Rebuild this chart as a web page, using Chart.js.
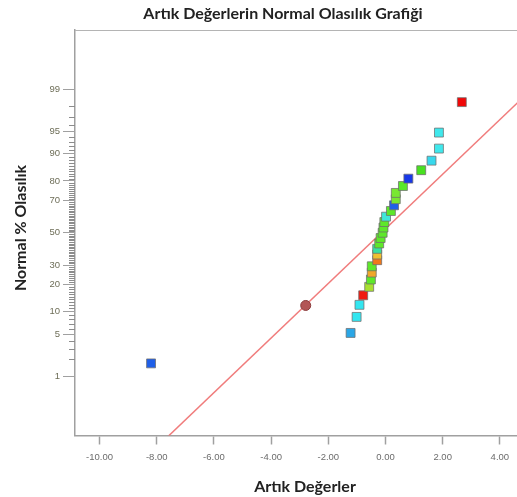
<!DOCTYPE html>
<html>
<head>
<meta charset="utf-8">
<script src="https://cdn.jsdelivr.net/npm/chart.js@4/dist/chart.umd.min.js"></script>
<style>
  html, body { margin: 0; padding: 0; background: #fff; }
  #wrap { width: 517px; height: 497px; }
</style>
</head>
<body>
<div id="wrap"><canvas id="probPlot"></canvas></div>
<script>
// residuals (x) and their normal % probability (y), lowest first
const residuals = [-8.20, -1.22, -1.01, -0.91, -0.78, -0.57, -0.51, -0.48, -0.48, -0.29,
                   -0.29, -0.29, -0.22, -0.17, -0.10, -0.07, -0.04, 0.02, 0.19, 0.30,
                   0.36, 0.36, 0.61, 0.80, 1.25, 1.61, 1.87, 1.87, 2.67];
const probPct = [1.7, 5.2, 8.6, 12.1, 15.5, 19.0, 22.4, 25.9, 29.3, 32.8,
                 36.2, 39.7, 43.1, 46.6, 50.0, 53.4, 56.9, 60.3, 63.8, 67.2,
                 70.7, 74.1, 77.6, 81.0, 84.5, 87.9, 91.4, 94.8, 98.3];
// the highlighted (round) point
const markX = [-2.79];
const markPct = [11.9];
// reference line end points
const lineX = [-8.0, 5.0];
const linePct = [0.025, 98.87];

const xTicks = [-10, -8, -6, -4, -2, 0, 2, 4];
const yTickPct = [1, 5, 10, 20, 30, 50, 70, 80, 90, 95, 99];
const yMinorPct = [2, 3, 4, 6, 7, 8, 9, 11, 12, 13, 14, 15, 16, 17, 18, 19, 21, 22, 23, 24, 25, 26, 27, 28, 29,
                   31, 32, 33, 34, 35, 36, 37, 38, 39, 40, 41, 42, 43, 44, 45, 46, 47, 48, 49,
                   51, 52, 53, 54, 55, 56, 57, 58, 59, 60, 61, 62, 63, 64, 65, 66, 67, 68, 69,
                   71, 72, 73, 74, 75, 76, 77, 78, 79, 81, 82, 83, 84, 85, 86, 87, 88, 89,
                   91, 92, 93, 94, 96, 97, 98];
const yRangePct = [0.05, 99.95];
const xRange = [-10.86, 4.60];

// colours of the squares (by response value in the original)
const pointColors = ['#1f5fe8', '#2aa6e6', '#33e6f0', '#33e6f0', '#f01a10', '#a8e030', '#5ee82a', '#f0a828', '#5ee82a', '#f0781a',
                     '#f0c030', '#38e0a0', '#5ee82a', '#5ee82a', '#5ee82a', '#5ee82a', '#5ee82a', '#40e8d8', '#5ee82a', '#2060e8',
                     '#78e830', '#78e830', '#58e82a', '#1838e8', '#48e020', '#38d8ec', '#40e8ec', '#40e8ec', '#f00808'];

// inverse normal cdf (Acklam) - used for the probability axis
function probit(p) {
  const a = [-3.969683028665376e+01, 2.209460984245205e+02, -2.759285104469687e+02, 1.383577518672690e+02, -3.066479806614716e+01, 2.506628277459239e+00];
  const b = [-5.447609879822406e+01, 1.615858368580409e+02, -1.556989798598866e+02, 6.680131188771972e+01, -1.328068155288572e+01];
  const c = [-7.784894002430293e-03, -3.223964580411365e-01, -2.400758277161838e+00, -2.549732539343734e+00, 4.374664141464968e+00, 2.938163982698783e+00];
  const d = [7.784695709041462e-03, 3.224671290700398e-01, 2.445134137142996e+00, 3.754408661907416e+00];
  const pl = 0.02425;
  if (p < pl) {
    const q = Math.sqrt(-2 * Math.log(p));
    return (((((c[0]*q+c[1])*q+c[2])*q+c[3])*q+c[4])*q+c[5]) / ((((d[0]*q+d[1])*q+d[2])*q+d[3])*q+1);
  }
  if (p > 1 - pl) {
    const q = Math.sqrt(-2 * Math.log(1 - p));
    return -(((((c[0]*q+c[1])*q+c[2])*q+c[3])*q+c[4])*q+c[5]) / ((((d[0]*q+d[1])*q+d[2])*q+d[3])*q+1);
  }
  const q = p - 0.5, r = q * q;
  return (((((a[0]*r+a[1])*r+a[2])*r+a[3])*r+a[4])*r+a[5])*q / (((((b[0]*r+b[1])*r+b[2])*r+b[3])*r+b[4])*r+1);
}
const z = pct => probit(pct / 100);

// minor ticks on the probability axis + top frame line + titles
const extras = {
  id: 'extras',
  afterDraw(chart) {
    const ctx = chart.ctx;
    const area = chart.chartArea;
    const y = chart.scales.y;
    ctx.save();
    ctx.strokeStyle = '#8c8c8c';
    ctx.lineWidth = 1;
    ctx.beginPath();
    yMinorPct.forEach(p => {
      const py = Math.round(y.getPixelForValue(z(p))) + 0.5;
      ctx.moveTo(area.left - 6, py);
      ctx.lineTo(area.left, py);
    });
    ctx.stroke();
    // top frame
    ctx.strokeStyle = '#b4b4b4';
    ctx.beginPath();
    ctx.moveTo(area.left, area.top + 0.5);
    ctx.lineTo(area.right, area.top + 0.5);
    ctx.stroke();

    ctx.fillStyle = '#222';
    ctx.textAlign = 'center';
    ctx.textBaseline = 'middle';
    ctx.font = 'bold 16px Lato';
    ctx.fillText('Artık Değerlerin Normal Olasılık Grafiği', 283, 14);
    ctx.fillText('Artık Değerler', 305, 487);
    ctx.translate(21, 228);
    ctx.rotate(-Math.PI / 2);
    ctx.fillText('Normal % Olasılık', 0, 0);
    ctx.restore();
  }
};

const data = {
  datasets: [
    {
      label: 'Artıklar',
      data: residuals.map((x, i) => ({ x: x, y: z(probPct[i]) })),
      pointStyle: 'rect',
      pointRadius: 6.3,
      pointBackgroundColor: pointColors,
      pointBorderColor: 'rgba(110,110,110,0.75)',
      pointBorderWidth: 1,
      order: 0
    },
    {
      label: 'İşaretli',
      data: markX.map((x, i) => ({ x: x, y: z(markPct[i]) })),
      pointStyle: 'circle',
      pointRadius: 5,
      pointBackgroundColor: '#b35555',
      pointBorderColor: '#8a3c3c',
      pointBorderWidth: 1,
      order: 1
    },
    {
      label: 'Doğru',
      data: lineX.map((x, i) => ({ x: x, y: z(linePct[i]) })),
      showLine: true,
      borderColor: 'rgba(238,110,110,0.9)',
      borderWidth: 1.5,
      pointRadius: 0,
      order: 2
    }
  ]
};

const config = {
  type: 'scatter',
  data,
  options: {
    responsive: false,
    animation: false,
    layout: { autoPadding: false, padding: { top: 30, right: 0, left: 0, bottom: 0 } },
    plugins: {
      legend: { display: false },
      tooltip: { enabled: false }
    },
    scales: {
      x: {
        type: 'linear',
        min: xRange[0],
        max: xRange[1],
        afterBuildTicks: s => { s.ticks = xTicks.map(v => ({ value: v })); },
        afterFit: s => { s.height = 61.5; s.paddingLeft = 0; s.paddingRight = 0; },
        grid: { drawOnChartArea: false, tickLength: 9, tickColor: '#a0a0a0', tickWidth: 1.5 },
        border: { color: '#a0a0a0', width: 1.5 },
        ticks: {
          padding: 7,
          color: '#6c6c6c',
          font: { family: 'Liberation Sans', size: 9.5 },
          callback: v => v.toFixed(2)
        }
      },
      y: {
        type: 'linear',
        min: z(yRangePct[0]),
        max: z(yRangePct[1]),
        afterBuildTicks: s => { s.ticks = yTickPct.map(p => ({ value: z(p) })); },
        afterFit: s => { s.width = 75; s.paddingTop = 0; s.paddingBottom = 0; },
        grid: { drawOnChartArea: false, tickLength: 12, tickColor: '#a0a0a0', tickWidth: 1 },
        border: { color: '#a0a0a0', width: 1.5 },
        ticks: {
          padding: 3,
          color: '#6e6e58',
          font: { family: 'Liberation Sans', size: 9.5 },
          callback: (v, i) => String(yTickPct[i])
        }
      }
    }
  },
  plugins: [extras]
};

const canvas = document.getElementById('probPlot');
canvas.width = 517;
canvas.height = 497;
new Chart(canvas, config);
</script>
</body>
</html>
